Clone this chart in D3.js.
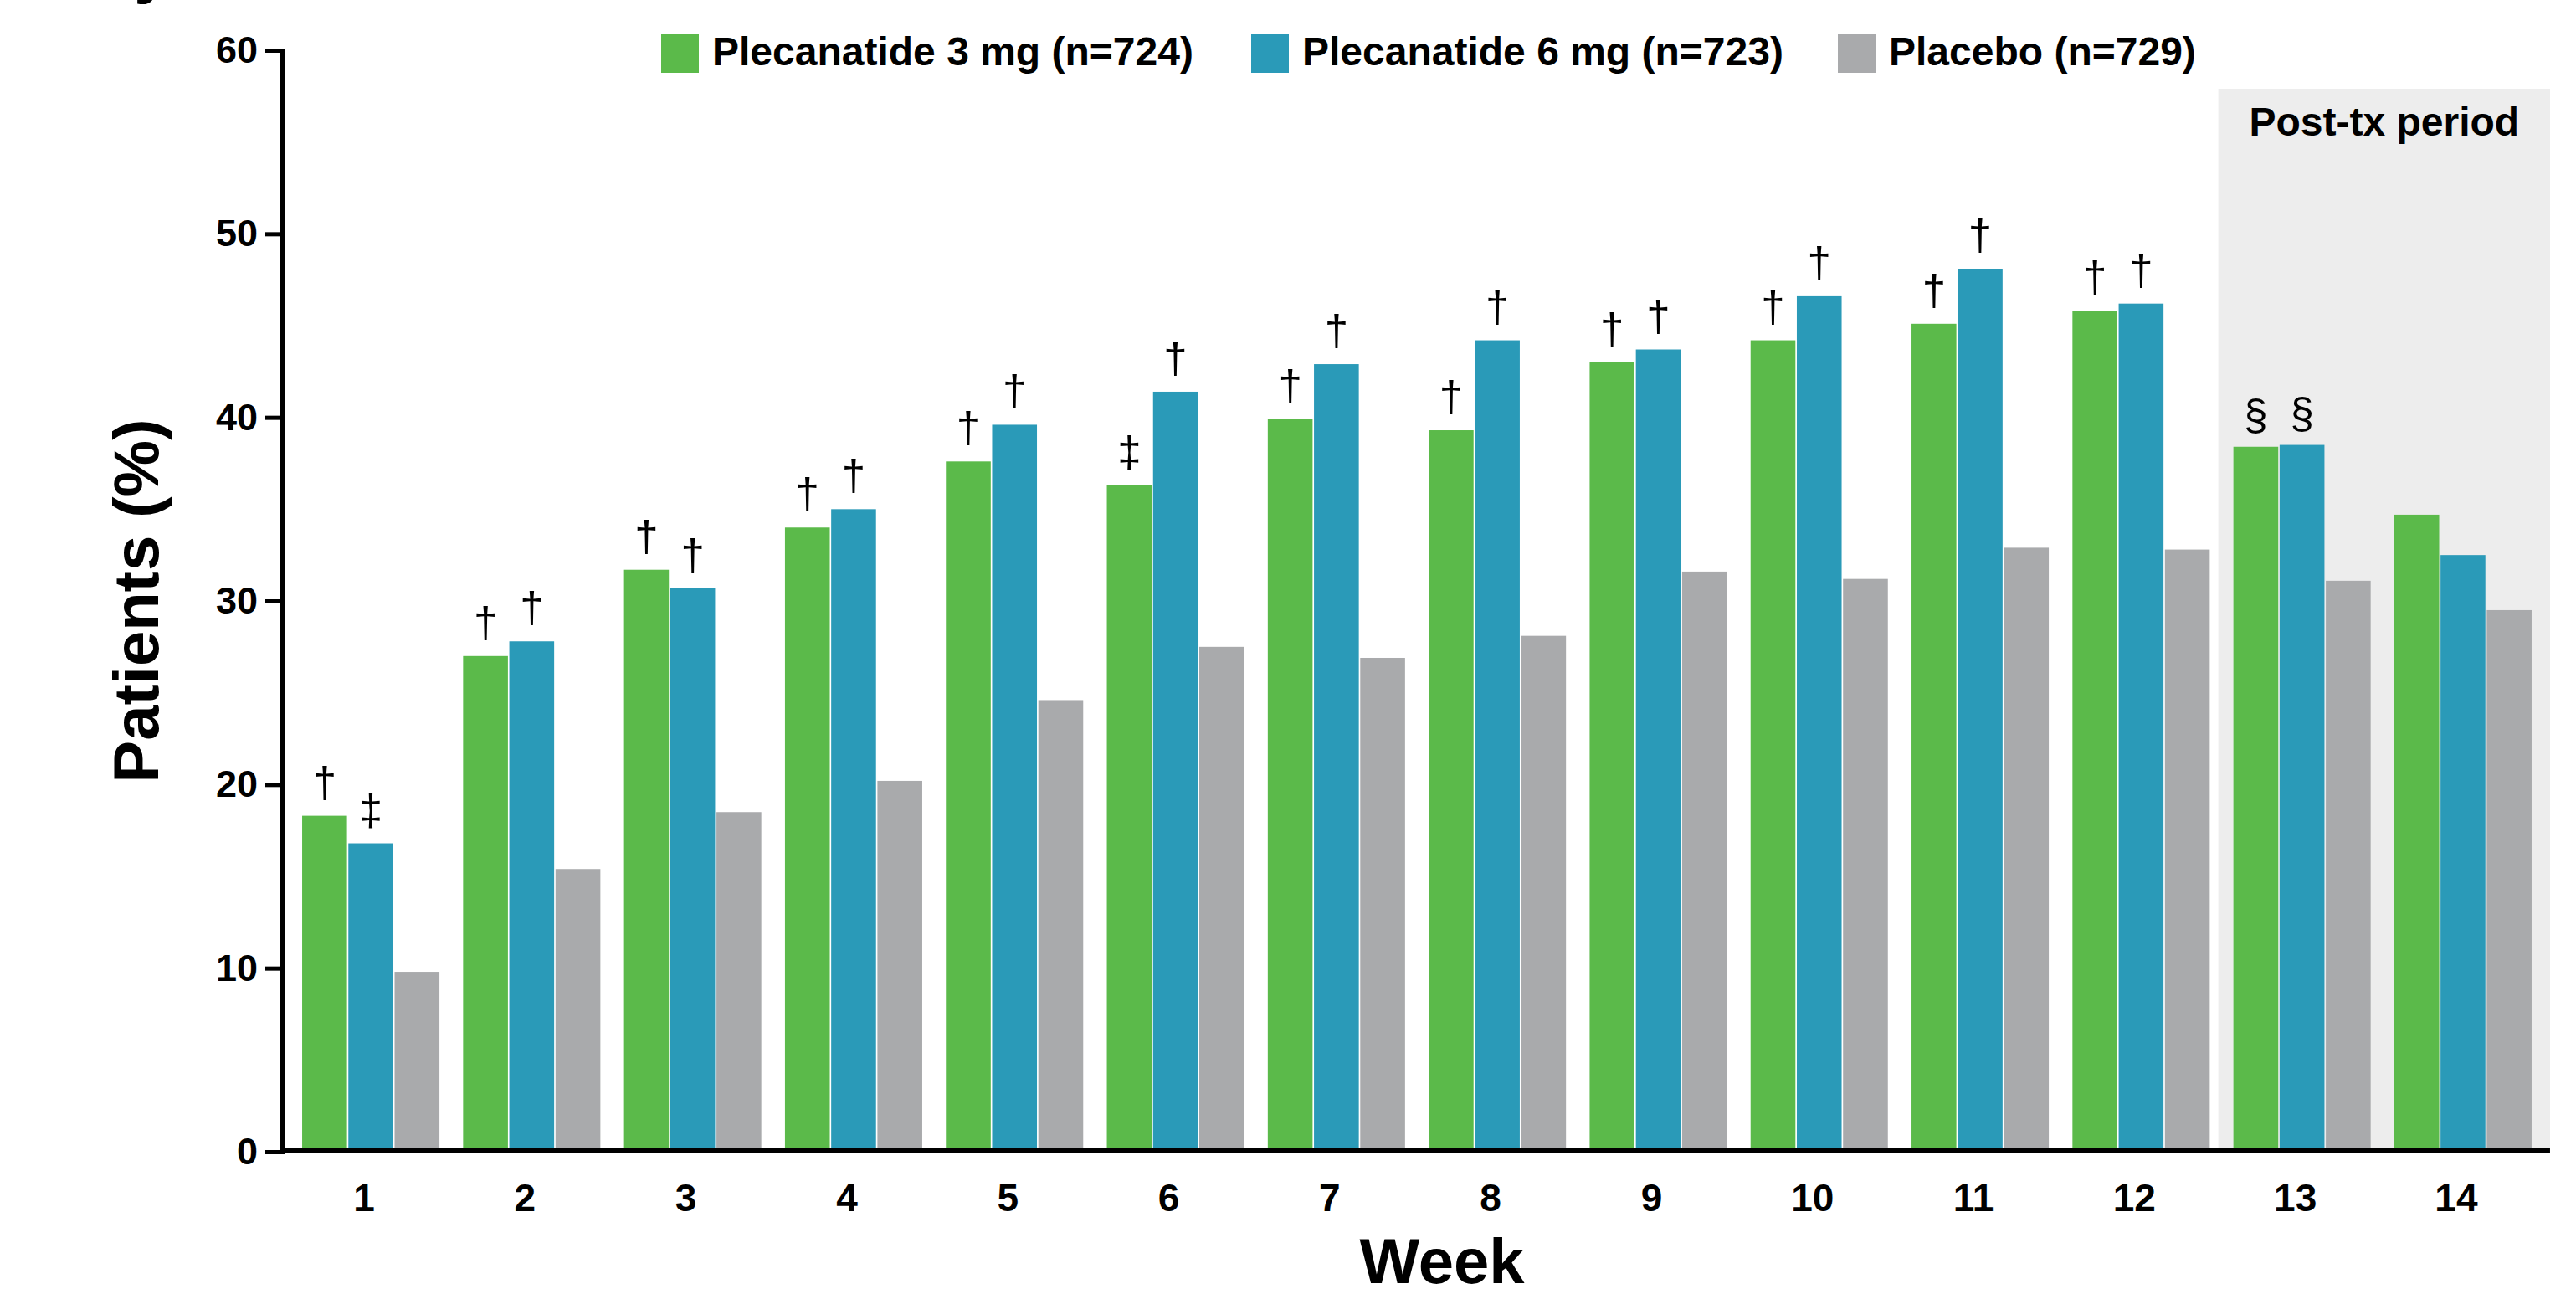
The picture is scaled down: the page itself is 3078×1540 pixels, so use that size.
<!DOCTYPE html>
<html>
<head>
<meta charset="utf-8">
<script src="https://cdn.jsdelivr.net/npm/d3@7"></script>
<style>
  html, body { margin: 0; padding: 0; background: #ffffff; }
  svg { display: block; }
  text { font-family: "Liberation Sans", Arial, Helvetica, sans-serif; fill: #000; }
</style>
</head>
<body>
<svg id="chart" width="3078" height="1540"></svg>
<script>
// ---------- data ----------
const weeks = ["1","2","3","4","5","6","7","8","9","10","11","12","13","14"];
const seriesNames = ["Plecanatide 3 mg (n=724)", "Plecanatide 6 mg (n=723)", "Placebo (n=729)"];
const plec3   = [18.3, 27.0, 31.7, 34.0, 37.6, 36.3, 39.9, 39.3, 43.0, 44.2, 45.1, 45.8, 38.4, 34.7];
const plec6   = [16.8, 27.8, 30.7, 35.0, 39.6, 41.4, 42.9, 44.2, 43.7, 46.6, 48.1, 46.2, 38.5, 32.5];
const placebo = [ 9.8, 15.4, 18.5, 20.2, 24.6, 27.5, 26.9, 28.1, 31.6, 31.2, 32.9, 32.8, 31.1, 29.5];
const marks3  = ["†","†","†","†","†","‡","†","†","†","†","†","†","§",""];
const marks6  = ["‡","†","†","†","†","†","†","†","†","†","†","†","§",""];
const yTicks  = [0, 10, 20, 30, 40, 50, 60];
const postWeeks = ["13", "14"];
const postLabel = "Post-tx period";
const xTitle = "Week";
const yTitle = "Patients (%)";

const colors = ["#5bba4a", "#2a9ab8", "#a9aaac"];
const seriesValues = [plec3, plec6, placebo];
const seriesMarks = [marks3, marks6, null];

// ---------- scales ----------
const svg = d3.select("#chart");
const axisX = 337;
const y = d3.scaleLinear().domain([0, 60]).range([1376, 60]);
const x = d3.scaleBand().domain(weeks).range([346.9, 3039.1]).paddingInner(0.147).paddingOuter(0.0735);
const xs = d3.scaleBand().domain(d3.range(3)).range([0, x.bandwidth()]).paddingInner(0.03);

// ---------- post-treatment shading ----------
const boxLeft = x(postWeeks[0]) - 18;
const boxRight = x(postWeeks[1]) + x.bandwidth() + 22;
svg.append("rect")
  .attr("x", boxLeft).attr("y", 106)
  .attr("width", boxRight - boxLeft).attr("height", y(0) - 106)
  .attr("fill", "#ededed");
svg.append("text")
  .attr("x", (boxLeft + boxRight) / 2).attr("y", 162)
  .attr("text-anchor", "middle")
  .attr("font-size", 48).attr("font-weight", "bold")
  .text(postLabel);

// ---------- bars ----------
const rows = [];
weeks.forEach((w, i) => {
  seriesValues.forEach((vals, s) => {
    rows.push({ week: w, s: s, v: vals[i], mark: seriesMarks[s] ? seriesMarks[s][i] : "" });
  });
});

svg.append("g").selectAll("rect").data(rows).join("rect")
  .attr("x", d => x(d.week) + xs(d.s))
  .attr("y", d => y(d.v))
  .attr("width", xs.bandwidth())
  .attr("height", d => y(0) - y(d.v))
  .attr("fill", d => colors[d.s]);

svg.append("g").selectAll("text").data(rows.filter(d => d.mark)).join("text")
  .attr("x", d => x(d.week) + xs(d.s) + xs.bandwidth() / 2)
  .attr("y", d => y(d.v) - (d.mark === "§" ? 20 : 22))
  .attr("text-anchor", "middle")
  .attr("font-size", 51)
  .attr("font-weight", "normal")
  .text(d => d.mark);

// ---------- y axis ----------
const gy = svg.append("g").attr("transform", `translate(${axisX},0)`)
  .call(d3.axisLeft(y).tickValues(yTicks).tickSize(20).tickSizeOuter(0).tickPadding(9));
gy.select(".domain").attr("stroke", "#000").attr("stroke-width", 5).attr("stroke-linecap", "square");
gy.selectAll(".tick line").attr("stroke", "#000").attr("stroke-width", 5);
gy.selectAll(".tick text")
  .attr("font-size", 45).attr("font-weight", "bold")
  .attr("font-family", "'Liberation Sans', Arial, Helvetica, sans-serif")
  .attr("fill", "#000");

// ---------- x axis ----------
const gx = svg.append("g").attr("transform", `translate(0,${y(0)})`)
  .call(d3.axisBottom(x).tickSize(0).tickPadding(38));
gx.select(".domain").remove();
gx.selectAll(".tick text")
  .attr("dx", -8)
  .attr("font-size", 46).attr("font-weight", "bold")
  .attr("font-family", "'Liberation Sans', Arial, Helvetica, sans-serif")
  .attr("fill", "#000");
svg.append("line")
  .attr("x1", axisX - 2.5).attr("x2", boxRight)
  .attr("y1", y(0) - 1.5).attr("y2", y(0) - 1.5)
  .attr("stroke", "#000").attr("stroke-width", 6);

// ---------- titles ----------
svg.append("text")
  .attr("x", 1723).attr("y", 1533)
  .attr("text-anchor", "middle")
  .attr("font-size", 76).attr("font-weight", "bold")
  .text(xTitle);
svg.append("text")
  .attr("transform", "translate(189,718) rotate(-90)")
  .attr("text-anchor", "middle")
  .attr("font-size", 76).attr("font-weight", "bold")
  .text(yTitle);

// clipped remnant of a title above the chart
svg.append("text")
  .attr("x", 160).attr("y", -12)
  .attr("font-size", 80).attr("font-weight", "bold")
  .text("y");

// ---------- legend ----------
const legendX = [790, 1495, 2196];
const lg = svg.append("g").selectAll("g").data(seriesNames).join("g")
  .attr("transform", (d, i) => `translate(${legendX[i]},41)`);
lg.append("rect").attr("width", 45).attr("height", 46).attr("fill", (d, i) => colors[i]);
lg.append("text").attr("x", 61).attr("y", 37)
  .attr("font-size", 48).attr("font-weight", "bold")
  .text(d => d);
</script>
</body>
</html>
